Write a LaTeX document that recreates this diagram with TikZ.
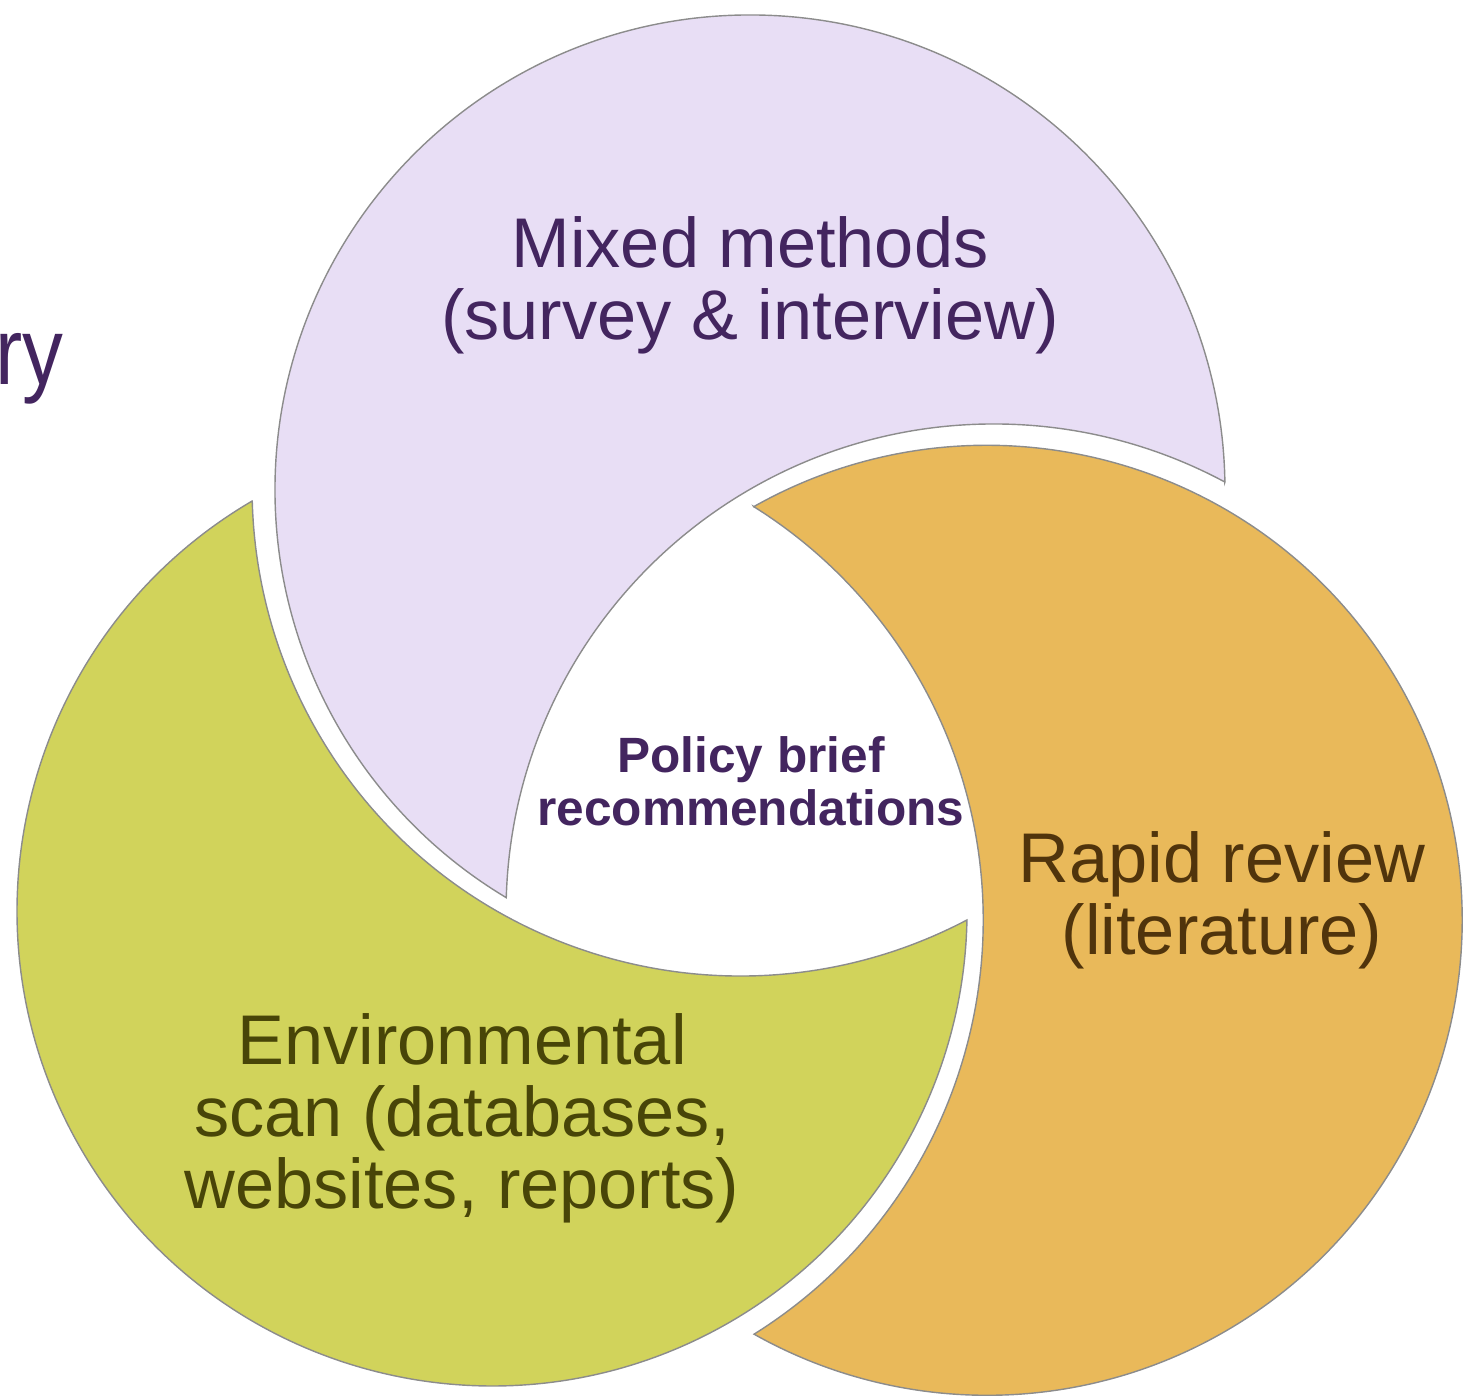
\documentclass[tikz,border=0pt]{standalone}
\usepackage{fontspec}
\usepackage{graphicx}
\setmainfont{Liberation Sans}
\definecolor{lav}{HTML}{E8DEF5}
\definecolor{ochre}{HTML}{E9B95A}
\definecolor{lime}{HTML}{D1D35B}
\definecolor{txtpurple}{HTML}{43255F}
\definecolor{txtbrown}{HTML}{50340C}
\definecolor{txtolive}{HTML}{484508}
\definecolor{edgegray}{HTML}{8C8C8C}
\begin{document}
\begin{tikzpicture}[x=0.01cm,y=0.01cm,
  crescent/.style={draw=edgegray, line width=0.4pt},
  bigtext/.style={font=\fontsize{20}{20.5}\selectfont, align=center, inner sep=0pt},
  boldtext/.style={font=\fontsize{14.1}{15.1}\selectfont\bfseries, align=center, inner sep=0pt, text=txtpurple}]
\useasboundingbox (0,0) rectangle (1478,1397);
% purple crescent (top)
\path[crescent, fill=lav] (1224.9,914.9) arc[start angle=0.95, end angle=239.13, radius=475]
  arc[start angle=178.32, end angle=61.76, radius=488] -- cycle;
% green crescent (left)
\path[crescent, fill=lime] (252.2,896) arc[start angle=120.33, end angle=358.91, radius=475]
  arc[start angle=-62.29, end angle=-178.47, radius=488] -- cycle;
% orange crescent (right)
\path[crescent, fill=ochre] (753.7,890.3) arc[start angle=119.44, end angle=-119.39, radius=475]
  arc[start angle=-57.96, end angle=58.02, radius=488] -- cycle;
% texts
\node[bigtext, text=txtpurple] (mixed) at (750,1112) {Mixed methods\\(survey \& interview)};
\node[bigtext, text=txtbrown] (rapid) at (1222,497) {Rapid review\\(literature)};
\node[bigtext, text=txtolive] (env) at (462,279) {Environmental\\scan (databases,\\websites, reports)};
\node[boldtext] (policy) at (751,616) {Policy brief\\recommendations};
\node[font=\fontsize{27}{30}\selectfont, text=txtpurple, inner sep=0pt, anchor=base east] (ry) at (64,1012) {\scalebox{0.86}[1]{ry}};
\end{tikzpicture}
\end{document}
